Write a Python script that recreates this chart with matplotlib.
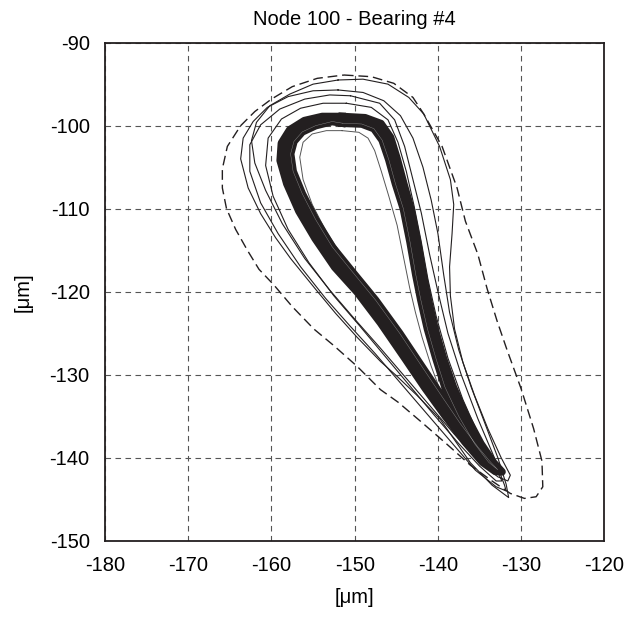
import numpy as np
import matplotlib
matplotlib.use("Agg")
import matplotlib.pyplot as plt

plt.rcParams['font.family'] = ['Liberation Sans', 'DejaVu Sans']
plt.rcParams['axes.unicode_minus'] = False

# orbit traces, [um]
dashed_x = [-151.3, -148.0, -145.3, -143.0, -141.7, -139.5, -137.7, -136.7, -135.2, -134.1,
            -132.9, -131.7, -130.0, -128.5, -127.5, -127.4, -128.2, -129.6, -131.3, -133.5,
            -136.1, -139.0, -142.1, -144.8, -146.9, -149.7, -152.5, -154.9, -157.5, -159.7,
            -161.5, -162.9, -164.3, -165.4, -165.9, -165.9, -165.3, -163.7, -162.0, -160.0,
            -157.5, -154.5, -151.3]
dashed_y = [-93.9, -94.1, -94.9, -96.6, -98.6, -102.5, -107.5, -111.5, -115.5, -119.6,
            -123.5, -127.0, -131.7, -136.5, -140.4, -143.5, -144.7, -144.9, -144.3, -142.8,
            -140.9, -138.3, -135.6, -133.3, -131.8, -129.0, -126.5, -124.5, -121.8, -119.2,
            -117.3, -115.0, -112.5, -110.0, -107.5, -105.2, -102.5, -100.0, -98.3, -96.8,
            -95.3, -94.3, -93.9]

loop_a_x = [-152.0, -149.0, -146.0, -143.5, -141.7, -139.8, -138.5, -138.1, -138.3, -138.6,
            -138.5, -138.0, -137.0, -135.6, -134.0, -132.4, -131.3, -131.6, -132.8, -135.0,
            -138.0, -141.0, -144.0, -147.0, -150.0, -153.0, -156.0, -158.7, -160.7, -162.0,
            -162.4, -161.8, -160.2, -157.8, -155.0, -152.0]
loop_a_y = [-94.5, -94.4, -95.0, -96.6, -98.6, -102.5, -106.5, -109.5, -113.0, -117.0,
            -120.5, -124.5, -128.5, -132.5, -136.5, -140.0, -142.1, -142.8, -142.3, -140.5,
            -137.2, -133.7, -130.2, -126.7, -123.3, -119.8, -116.0, -111.8, -107.8, -104.5,
            -101.8, -99.6, -97.6, -96.2, -95.0, -94.5]

loop_b_x = [-152.0, -149.0, -146.5, -144.5, -143.0, -141.8, -140.8, -140.0, -139.3, -138.6,
            -137.5, -136.0, -134.3, -132.8, -131.8, -131.5, -133.5, -136.1, -139.7, -142.5,
            -144.9, -146.9, -149.7, -152.3, -154.7, -157.7, -159.5, -161.3, -162.8, -163.7,
            -163.4, -162.2, -160.5, -158.0, -155.0, -152.0]
loop_b_y = [-95.7, -96.0, -97.0, -98.8, -101.5, -105.0, -109.0, -113.0, -118.0, -122.5,
            -127.0, -131.5, -136.0, -140.0, -143.2, -144.8, -143.3, -140.6, -135.4, -132.5,
            -130.2, -128.4, -125.5, -122.6, -119.7, -116.0, -113.5, -110.6, -107.5, -104.0,
            -101.5, -99.5, -97.8, -96.5, -95.8, -95.7]

loop_c_x = [-150.5, -147.0, -145.2, -144.0, -143.0, -142.0, -141.0, -140.0, -138.8, -137.2,
            -135.2, -133.3, -132.0, -131.8, -133.0, -135.5, -138.5, -141.5, -144.5, -147.5,
            -150.5, -153.5, -156.5, -159.2, -161.3, -162.6, -162.6, -161.3, -159.0, -156.0,
            -153.0, -150.5]
loop_c_y = [-96.4, -97.3, -99.3, -102.5, -106.5, -110.5, -115.5, -120.0, -125.0, -130.0,
            -135.3, -139.8, -143.3, -144.0, -143.5, -141.5, -138.0, -134.5, -131.0, -127.5,
            -124.2, -120.8, -117.0, -113.0, -109.3, -105.5, -102.3, -99.9, -98.0, -96.8,
            -96.3, -96.4]

loop_d_x = [-151.0, -148.0, -146.0, -144.8, -143.8, -142.9, -142.0, -141.2, -140.2, -138.8,
            -137.0, -135.0, -133.2, -132.3, -133.0, -135.0, -137.5, -140.5, -143.5, -146.5,
            -149.5, -152.5, -155.5, -158.0, -159.8, -160.7, -160.4, -158.8, -156.5, -153.8,
            -151.0]
loop_d_y = [-97.3, -97.8, -99.3, -102.0, -105.5, -109.5, -114.0, -118.5, -123.0, -128.0,
            -133.0, -137.5, -141.0, -142.8, -142.8, -141.0, -138.3, -134.8, -131.2, -127.6,
            -124.0, -120.5, -116.5, -112.5, -108.5, -104.8, -101.5, -99.2, -97.9, -97.3,
            -97.3]

loop_e_x = [-151.5, -149.5, -148.4, -147.6, -146.8, -145.9, -144.9, -144.1, -143.4, -142.7,
            -141.9, -140.8, -139.5, -137.8, -135.8, -133.9, -132.9, -134.0, -135.9, -138.2,
            -140.6, -143.2, -145.9, -148.6, -151.2, -153.4, -155.1, -156.2, -156.6, -156.2,
            -155.1, -153.4, -151.5]
loop_e_y = [-100.6, -100.8, -101.5, -103.0, -105.5, -108.5, -112.0, -116.0, -119.5, -122.5,
            -125.5, -129.0, -132.5, -136.0, -139.0, -141.0, -141.8, -140.2, -137.5, -134.2,
            -130.8, -127.0, -122.9, -119.2, -116.1, -112.8, -109.5, -106.5, -103.8, -102.0,
            -101.0, -100.6, -100.6]

core_mid_x = [-151.5, -149.0, -147.3, -146.2, -145.4, -144.6, -143.7, -142.9, -142.2, -141.6,
              -140.8, -139.8, -138.6, -137.0, -135.2, -133.6, -132.6, -133.2, -134.5, -136.5,
              -138.8, -141.2, -143.6, -146.5, -149.3, -152.0, -154.3, -156.2, -157.6, -158.4,
              -158.3, -157.4, -155.8, -153.8, -151.5]
core_mid_y = [-99.3, -99.4, -100.0, -101.5, -104.0, -107.0, -110.0, -114.0, -118.0, -121.0,
              -124.5, -128.0, -131.5, -135.0, -138.3, -140.6, -141.6, -141.4, -140.2, -137.7,
              -134.6, -131.2, -127.6, -123.3, -119.6, -116.6, -113.2, -110.0, -106.8, -104.2,
              -102.3, -100.8, -99.8, -99.3, -99.3]

core_out_x = [-151.5, -148.75, -146.85, -145.7, -144.9, -144.1, -143.25, -142.45, -141.75, -141.15,
              -140.35, -139.35, -138.15, -136.6, -134.85, -133.3, -132.3, -133.1, -134.65, -136.75,
              -139.1, -141.55, -143.95, -146.9, -149.7, -152.4, -154.75, -156.7, -158.15, -158.95,
              -158.8, -157.8, -156.05, -153.9, -151.5]
core_out_y = [-98.9, -99.05, -99.75, -101.4, -104.0, -107.0, -110.0, -114.0, -118.0, -121.0,
              -124.5, -128.0, -131.5, -135.0, -138.3, -140.6, -141.7, -141.65, -140.55, -138.1,
              -135.0, -131.6, -128.05, -123.75, -120.05, -117.05, -113.6, -110.3, -107.0, -104.2,
              -102.1, -100.5, -99.4, -98.9, -98.9]

core_in_x = [-151.5, -149.15, -147.7, -146.7, -145.9, -145.1, -144.15, -143.35, -142.65, -142.05,
             -141.25, -140.25, -139.15, -137.5, -135.6, -133.9, -132.8, -133.7, -135.2, -137.3,
             -139.6, -142.0, -144.6, -147.5, -150.2, -152.7, -154.7, -156.3, -157.4, -157.7,
             -157.3, -156.3, -154.7, -152.7, -151.5]
core_in_y = [-99.7, -99.8, -100.35, -101.75, -104.1, -107.0, -110.0, -114.0, -118.0, -121.0,
             -124.5, -128.0, -131.5, -135.0, -138.3, -140.55, -141.45, -140.5, -138.7, -135.9,
             -132.5, -128.9, -125.0, -121.0, -117.7, -114.6, -111.3, -108.2, -105.5, -103.4,
             -101.9, -100.75, -100.0, -99.5, -99.7]

x_ticks = [-180, -170, -160, -150, -140, -130, -120]
y_ticks = [-150, -140, -130, -120, -110, -100, -90]

ink = '#231f20'

fig = plt.figure(figsize=(6.25, 6.18), dpi=100)
ax = fig.add_axes([0.168, 0.125, 0.799, 0.806])

# thin cycles
for lx, ly in [(loop_a_x, loop_a_y), (loop_b_x, loop_b_y),
               (loop_c_x, loop_c_y), (loop_d_x, loop_d_y)]:
    ax.plot(lx, ly, color=ink, lw=0.8)
ax.plot(loop_e_x, loop_e_y, color='#555555', lw=0.7)

# dense steady-state band
ax.plot(core_out_x, core_out_y, color=ink, lw=5.5, solid_joinstyle='round')
ax.plot(core_in_x, core_in_y, color=ink, lw=5.5, solid_joinstyle='round')
ax.plot(core_mid_x, core_mid_y, color=ink, lw=5.5, solid_joinstyle='round')
ax.plot(core_in_x, core_in_y, color='#8f8f8f', lw=0.3)

# first cycle
ax.plot(dashed_x, dashed_y, color=ink, lw=1.0, linestyle=(0, (7, 3.5)))

ax.set_xlim(-180, -120)
ax.set_ylim(-150, -90)
ax.set_xticks(x_ticks)
ax.set_yticks(y_ticks)
ax.tick_params(length=0, pad=11, labelsize=14.5)
ax.grid(True, color='#555555', lw=0.8, linestyle=(0, (5, 4)))
ax.set_axisbelow(True)
for s in ax.spines.values():
    s.set_linewidth(1.3)
    s.set_color(ink)

ax.set_title('Node 100 - Bearing #4', fontsize=14.5, pad=13)
ax.set_xlabel('[μm]', fontsize=14.5, labelpad=9)
ax.set_ylabel('[μm]', fontsize=14.5, labelpad=12)

fig.savefig('out.png', dpi=100)
